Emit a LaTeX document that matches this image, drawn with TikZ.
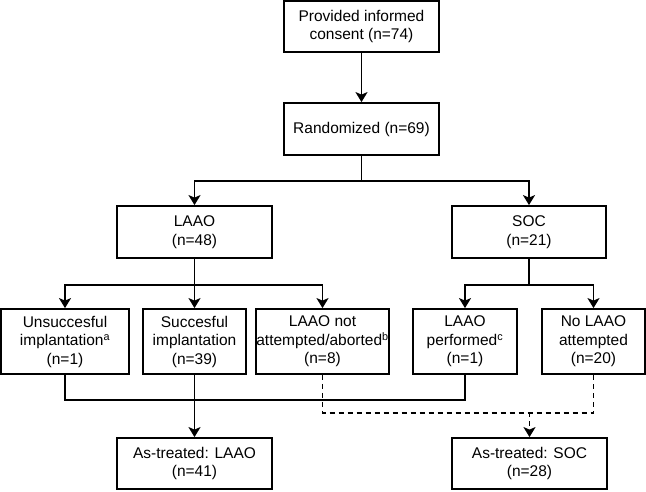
\documentclass[tikz,border=0pt]{standalone}
\usepackage{fontspec}
\setmainfont{Liberation Sans}
\usetikzlibrary{arrows.meta}
\begin{document}
\begin{tikzpicture}[x=1pt,y=-1pt,
  box/.style={draw,line width=1.8pt,align=center,inner sep=0pt,font=\fontsize{15.5}{18.5}\selectfont},
  conn/.style={line width=1.8pt},
  arr/.style={conn,-{Stealth[length=10pt,width=12pt,inset=2.5pt]}},
  dconn/.style={conn,dash pattern=on 5pt off 4pt},
  darr/.style={dconn,-{Stealth[length=10pt,width=12pt,inset=2.5pt]}}]
\useasboundingbox (0,0) rectangle (646,491);
% row 1-2
\node[box,minimum width=155pt,minimum height=51pt] (consent) at (361.5,26.5) {Provided informed\\consent (n=74)};
\node[box,minimum width=155pt,minimum height=52pt] (rand) at (361.5,129) {Randomized (n=69)};
% arms
\node[box,minimum width=155pt,minimum height=52pt] (laao) at (194.5,232) {LAAO\\(n=48)};
\node[box,minimum width=154pt,minimum height=52pt] (soc) at (529,232) {SOC\\(n=21)};
% row 3
\node[box,minimum width=128pt,minimum height=65pt] (unsucc) at (65,341.5) {Unsuccesful\\implantation\textsuperscript{a}\\(n=1)};
\node[box,minimum width=103pt,minimum height=65pt] (succ) at (194.5,341.5) {Succesful\\implantation\\(n=39)};
\node[box,minimum width=129pt,minimum height=65pt] (notatt) at (322.5,341.5) {LAAO not\\attempted/aborted\textsuperscript{b}\\(n=8)};
\node[box,minimum width=104pt,minimum height=65pt] (perf) at (465,341.5) {LAAO\\performed\textsuperscript{c}\\(n=1)};
\node[box,minimum width=103pt,minimum height=65pt] (nolaao) at (593.5,341.5) {No LAAO\\attempted\\(n=20)};
% bottom
\node[box,minimum width=155pt,minimum height=51pt] (atl) at (194.5,463.5) {As-treated: LAAO\\(n=41)};
\node[box,minimum width=155pt,minimum height=51pt] (ats) at (529.5,463.5) {As-treated: SOC\\(n=28)};
% connectors
\draw[arr] (consent.south) -- (rand.north);
\draw[arr] (rand.south) -- ++(0,25) -| (laao.north);
\draw[arr] (rand.south) -- ++(0,25) -| (soc.north);
\draw[arr] (laao.south) -- ++(0,26) -| (unsucc.north);
\draw[arr] (laao.south) -- (succ.north);
\draw[arr] (laao.south) -- ++(0,26) -| (notatt.north);
\draw[arr] (soc.south) -- ++(0,26) -| (perf.north);
\draw[arr] (soc.south) -- ++(0,26) -| (nolaao.north);
\draw[conn] (unsucc.south) -- ++(0,25) -| (perf.south);
\draw[arr] (succ.south) -- (atl.north);
\draw[dconn] (notatt.south) -- ++(0,38) -| (nolaao.south);
\coordinate (dj) at (ats.north |- 0,412);
\draw[darr] (dj) -- (ats.north);
\end{tikzpicture}
\end{document}
